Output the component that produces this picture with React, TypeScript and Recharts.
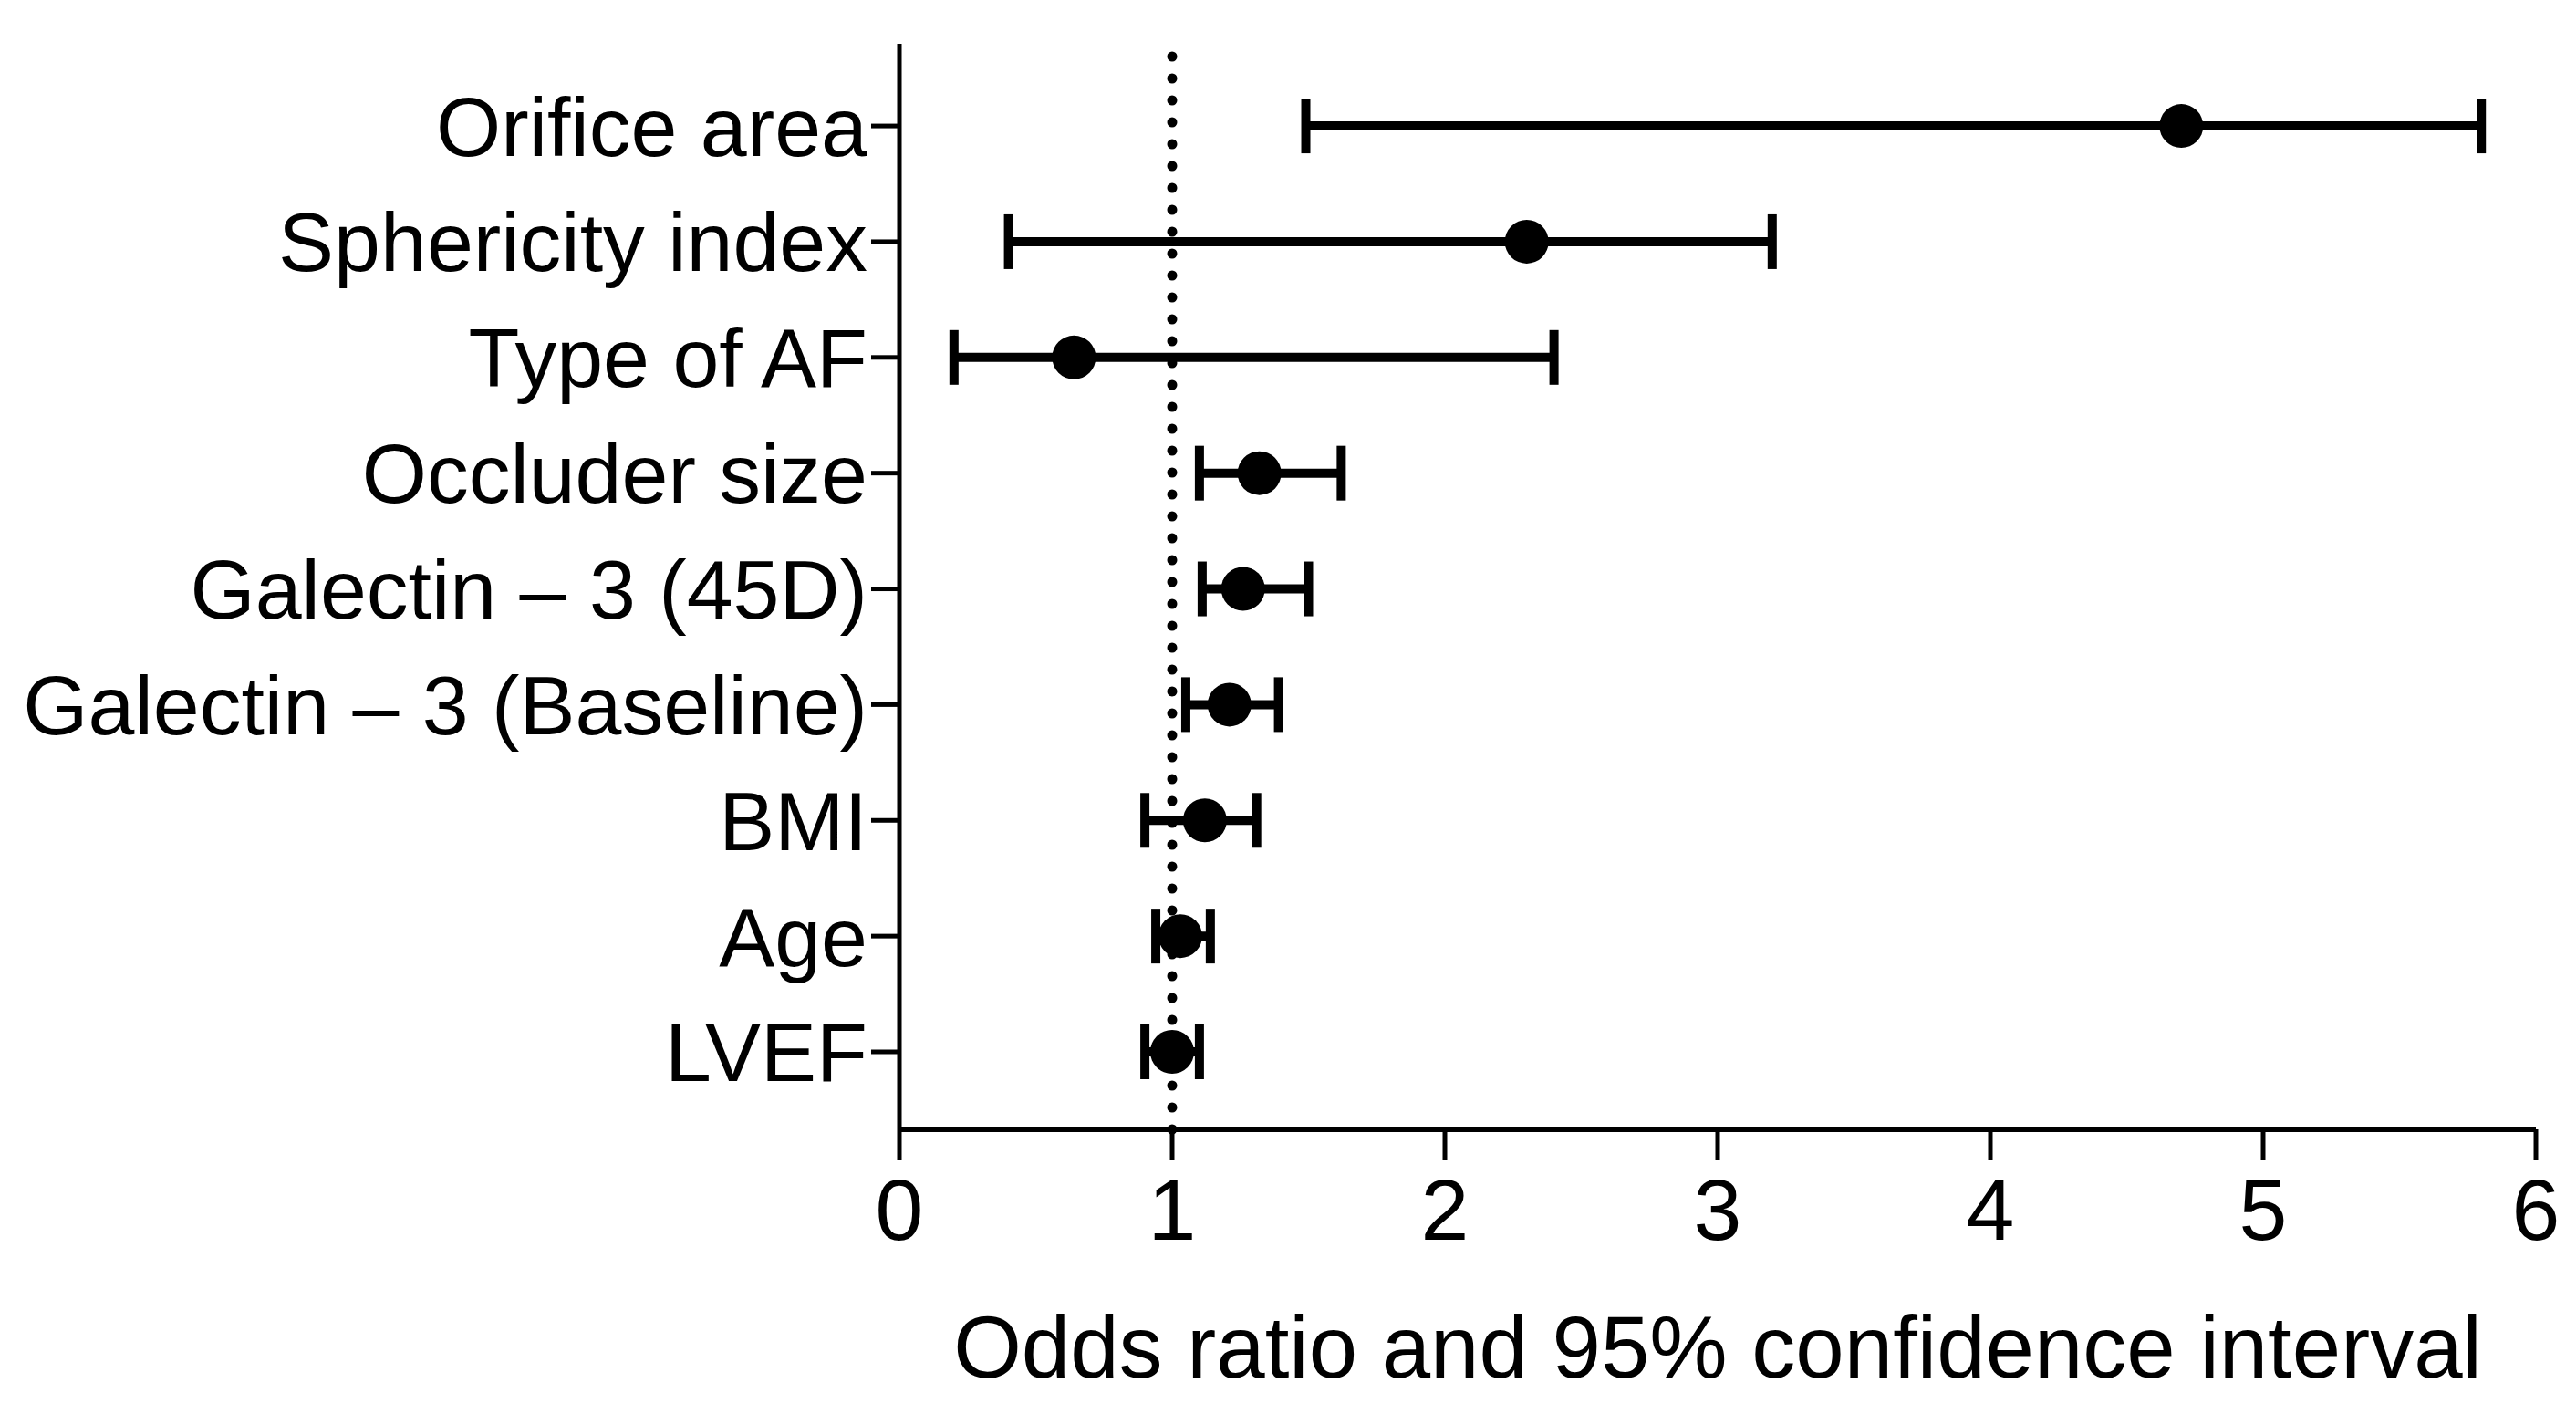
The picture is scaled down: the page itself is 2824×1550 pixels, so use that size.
import React from "react";
import {
  ScatterChart,
  Scatter,
  XAxis,
  YAxis,
  ErrorBar,
  ReferenceLine,
  Label,
} from "recharts";

// Forest plot: odds ratios with 95% CI, top row first
const factors = [
  "Orifice area",
  "Sphericity index",
  "Type of AF",
  "Occluder size",
  "Galectin – 3 (45D)",
  "Galectin – 3 (Baseline)",
  "BMI",
  "Age",
  "LVEF",
];
const oddsRatios = [4.7, 2.3, 0.64, 1.32, 1.26, 1.21, 1.12, 1.03, 1.0];
const ciLower = [1.49, 0.4, 0.2, 1.1, 1.11, 1.05, 0.9, 0.94, 0.9];
const ciUpper = [5.8, 3.2, 2.4, 1.62, 1.5, 1.39, 1.31, 1.14, 1.1];
const xTicks = [0, 1, 2, 3, 4, 5, 6];

const rowPositions = factors.map((_, i) => factors.length - i);

const data = factors.map((name, i) => ({
  name,
  pos: rowPositions[i],
  or: oddsRatios[i],
  err: [oddsRatios[i] - ciLower[i], ciUpper[i] - oddsRatios[i]],
}));

const labelFor = (pos: number) => {
  const idx = rowPositions.indexOf(pos);
  return idx >= 0 ? factors[idx] : "";
};

const Dot = (props: any) => {
  const { cx, cy } = props;
  return <circle cx={cx} cy={cy} r={24} fill="#000" />;
};

export default function App() {
  return (
    <div
      style={{
        position: "absolute",
        left: 0,
        top: 0,
        width: 2824,
        height: 1550,
        background: "#fff",
        fontFamily: "Arial, 'Liberation Sans', sans-serif",
      }}
    >
      <ScatterChart
        width={2824}
        height={1550}
        margin={{ top: 48, right: 44, bottom: 0, left: 0 }}
      >
        <XAxis
          type="number"
          dataKey="or"
          domain={[0, 6]}
          ticks={xTicks}
          allowDataOverflow
          height={312}
          tickSize={34}
          tickMargin={20}
          axisLine={{ stroke: "#000", strokeWidth: 6 }}
          tickLine={{ stroke: "#000", strokeWidth: 5 }}
          tick={{ fill: "#000", fontSize: 95 }}
        >
          <Label
            value="Odds ratio and 95% confidence interval"
            position="insideBottom"
            offset={40}
            fill="#000"
            fontSize={96}
          />
        </XAxis>
        <YAxis
          type="number"
          dataKey="pos"
          domain={[0.33, 9.71]}
          ticks={rowPositions}
          allowDataOverflow
          width={986}
          tickSize={31}
          tickMargin={4}
          tickFormatter={labelFor}
          axisLine={{ stroke: "#000", strokeWidth: 5 }}
          tickLine={{ stroke: "#000", strokeWidth: 5 }}
          tick={{ fill: "#000", fontSize: 91.5 }}
          interval={0}
        />
        <ReferenceLine
          x={1}
          stroke="#000"
          strokeWidth={11}
          strokeDasharray="0 24"
          strokeLinecap="round"
        />
        <Scatter data={data} shape={<Dot />} isAnimationActive={false}>
          <ErrorBar
            dataKey="err"
            direction="x"
            width={30}
            stroke="#000"
            strokeWidth={10}
          />
        </Scatter>
      </ScatterChart>
    </div>
  );
}
